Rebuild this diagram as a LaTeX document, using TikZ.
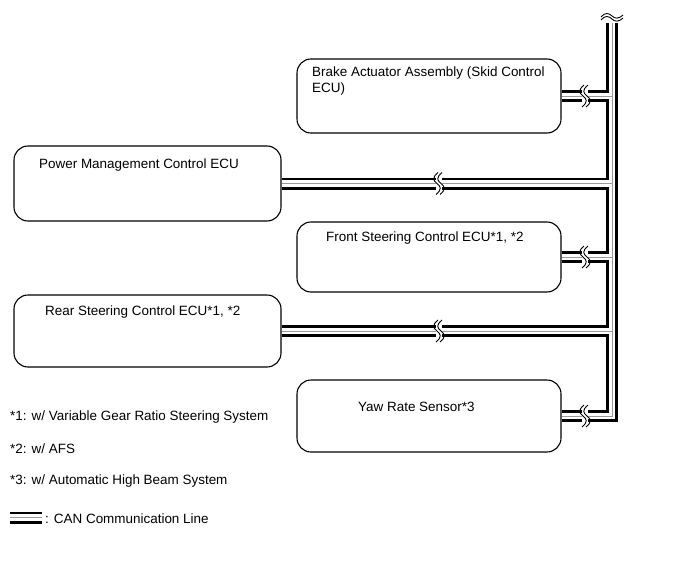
\documentclass[tikz,border=0pt]{standalone}
\usepackage{fontspec}
\setmainfont{Liberation Sans}
\usetikzlibrary{backgrounds,calc}
\begin{document}
\begin{tikzpicture}[x=1pt,y=-1pt,
  box/.style={draw, line width=1.1pt, rounded corners=14pt, inner sep=0pt},
  rbox/.style={box, minimum width=264pt},
  lbox/.style={box, minimum width=267pt},
  lbl/.style={anchor=base west, inner sep=0pt, font=\fontsize{13.45}{16}\selectfont},
  canblack/.style={line width=12pt, black, line join=miter},
  canwhite/.style={line width=6.4pt, white, line join=miter},
  cangray/.style={line width=0.8pt, gray!80, line join=miter},
  brkline/.style={line width=0.9pt, black}
]
\useasboundingbox (0,0) rectangle (691,562);

% boxes
\node[rbox, minimum height=74pt] (brake) at (429,96) {};
\node[lbox, minimum height=75pt] (power) at (147.5,183.5) {};
\node[rbox, minimum height=70pt] (front) at (429,257) {};
\node[lbox, minimum height=72pt] (rear) at (147.5,331) {};
\node[rbox, minimum height=72pt] (yaw) at (429,416) {};

% labels
\node[lbl] (tbrake1) at (312,76) {Brake Actuator Assembly (Skid Control};
\node[lbl] (tbrake2) at (312,92) {ECU)};
\node[lbl] (tpower) at (39,168) {Power Management Control ECU};
\node[lbl] (tfront) at (326,241) {Front Steering Control ECU*1, *2};
\node[lbl] (trear) at (45,315) {Rear Steering Control ECU*1, *2};
\node[lbl] (tyaw) at (358,411) {Yaw Rate Sensor*3};
\node[lbl] (n1) at (10,420) {*1: w/ Variable Gear Ratio Steering System};
\node[lbl] (n2) at (10,453) {*2: w/ AFS};
\node[lbl] (n3) at (10,484) {*3: w/ Automatic High Beam System};
\node[lbl] (leg) at (45,523) {: CAN Communication Line};

\coordinate (bus) at (612,0);
\coordinate (bustop) at (612,23);
\coordinate (buscorner) at (yaw.east -| bus);
\coordinate (brkR) at (585,0);
\coordinate (brkL) at (439,0);
\coordinate (legA) at (10,517.5);
\coordinate (legB) at (42,517.5);

\newcommand\canroute[1]{%
  \draw[#1] (bustop) -- (buscorner) -- (yaw.east);
  \draw[#1] (brake.east) -- (brake.east -| bus);
  \draw[#1] (power.east) -- (power.east -| bus);
  \draw[#1] (front.east) -- (front.east -| bus);
  \draw[#1] (rear.east) -- (rear.east -| bus);
  \draw[#1] (legA) -- (legB);
}
\newcommand\brkmark[1]{%
  \begin{scope}[shift={(#1)}]
    \fill[white] (-2.6,-6.8) rectangle (2.6,6.8);
    \draw[brkline] (-1,-11) .. controls (-7,-6) and (-6,-3) .. (-2,0) .. controls (2,3) and (3,6) .. (-3,11);
    \draw[brkline] (3,-11) .. controls (-3,-6) and (-2,-3) .. (2,0) .. controls (6,3) and (7,6) .. (1,11);
  \end{scope}
}

\begin{pgfonlayer}{background}
  \canroute{canblack}
  \canroute{canwhite}
  \canroute{cangray}
  \brkmark{brake.east -| brkR}
  \brkmark{front.east -| brkR}
  \brkmark{yaw.east -| brkR}
  \brkmark{power.east -| brkL}
  \brkmark{rear.east -| brkL}
  % top break of bus
  \draw[brkline] (601,17) .. controls (605,12) and (609,13) .. (612,16) .. controls (615,19) and (619,19) .. (623,15);
  \draw[brkline] (601,20) .. controls (605,15) and (609,16) .. (612,19) .. controls (615,22) and (619,22) .. (623,18);
\end{pgfonlayer}
\end{tikzpicture}
\end{document}
